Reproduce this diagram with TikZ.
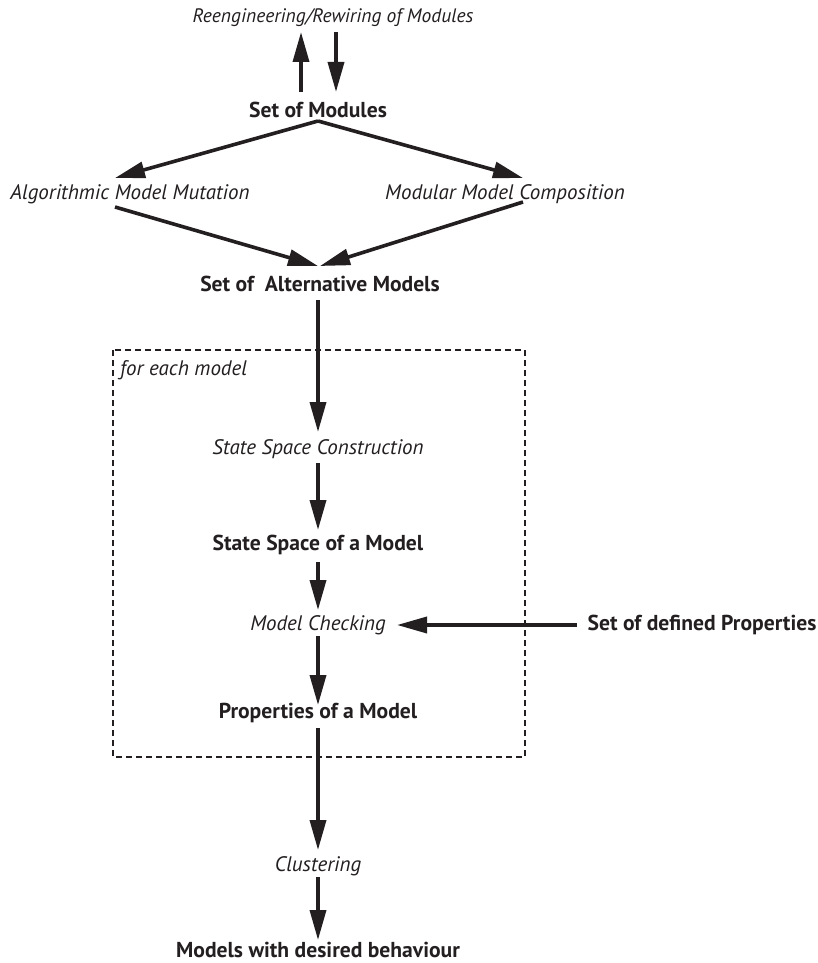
\documentclass[tikz,border=0pt]{standalone}
\usepackage{fontspec}
\setmainfont{PT Sans}
\usetikzlibrary{arrows.meta}
\definecolor{ink}{HTML}{231F20}
\begin{document}
\begin{tikzpicture}[x=1pt,y=1pt,
  lbl/.style={inner sep=0pt,text=ink},
  proc/.style={lbl,font=\fontsize{21}{23}\selectfont\itshape},
  top/.style={lbl,font=\fontsize{19.5}{22}\selectfont\itshape},
  res/.style={lbl,font=\fontsize{21.6}{24}\selectfont\bfseries},
  arr/.style={draw=ink,line width=3.6pt,-{Triangle[length=30pt,width=16pt]}},
  box/.style={draw=ink,line width=1.1pt,dash pattern=on 6pt off 4pt}]
\useasboundingbox (0,0) rectangle (818,-963);
\node[top]  (reeng) at (333,-18) {Reengineering/Rewiring of Modules};
\node[res]  (mods)  at (318,-110) {Set of Modules};
\node[proc] (alg)   at (130,-194) {Algorithmic Model Mutation};
\node[proc] (mod)   at (505,-194) {Modular Model Composition};
\node[res]  (alt)   at (320,-284) {Set of~ Alternative Models};
\node[proc,anchor=west] (fe) at (120,-370) {for each model};
\node[proc] (ssc)   at (318,-449) {State Space Construction};
\node[res]  (sssm)  at (318,-545) {State Space of a Model};
\node[proc] (mc)    at (318,-625) {Model Checking};
\node[res]  (sdp)   at (702,-625) {Set of defined Properties};
\node[res]  (pom)   at (318,-713) {Properties of a Model};
\node[proc] (clu)   at (318,-866) {Clustering};
\node[res]  (mwdb)  at (318,-950) {Models with desired behaviour};
\draw[box] (113,-350) rectangle (525,-757);
\draw[arr] ([shift={(-17,18)}]mods.center) -- ([shift={(-32,-14)}]reeng.center);
\draw[arr] ([shift={(3,-14)}]reeng.center) -- ([shift={(18,18)}]mods.center);
\draw[arr] ([shift={(0,-11)}]mods.center) -- ([shift={(-15,16)}]alg.center);
\draw[arr] ([shift={(0,-11)}]mods.center) -- ([shift={(18,16)}]mod.center);
\draw[arr] ([shift={(-15,-13)}]alg.center) -- ([shift={(-2,18)}]alt.center);
\draw[arr] ([shift={(18,-8)}]mod.center) -- ([shift={(0,18)}]alt.center);
\draw[arr] ([shift={(-2,-16)}]alt.center) -- ([shift={(0,17)}]ssc.center);
\draw[arr] ([shift={(0,-14)}]ssc.center) -- ([shift={(0,15)}]sssm.center);
\draw[arr] ([shift={(0,-17)}]sssm.center) -- ([shift={(0,15)}]mc.center);
\draw[arr] ([shift={(-125,0)}]sdp.center) -- ([shift={(79,0)}]mc.center);
\draw[arr] ([shift={(0,-11)}]mc.center) -- ([shift={(0,8)}]pom.center);
\draw[arr] ([shift={(0,-15)}]pom.center) -- ([shift={(0,16)}]clu.center);
\draw[arr] ([shift={(0,-11)}]clu.center) -- ([shift={(0,10)}]mwdb.center);
\end{tikzpicture}
\end{document}
